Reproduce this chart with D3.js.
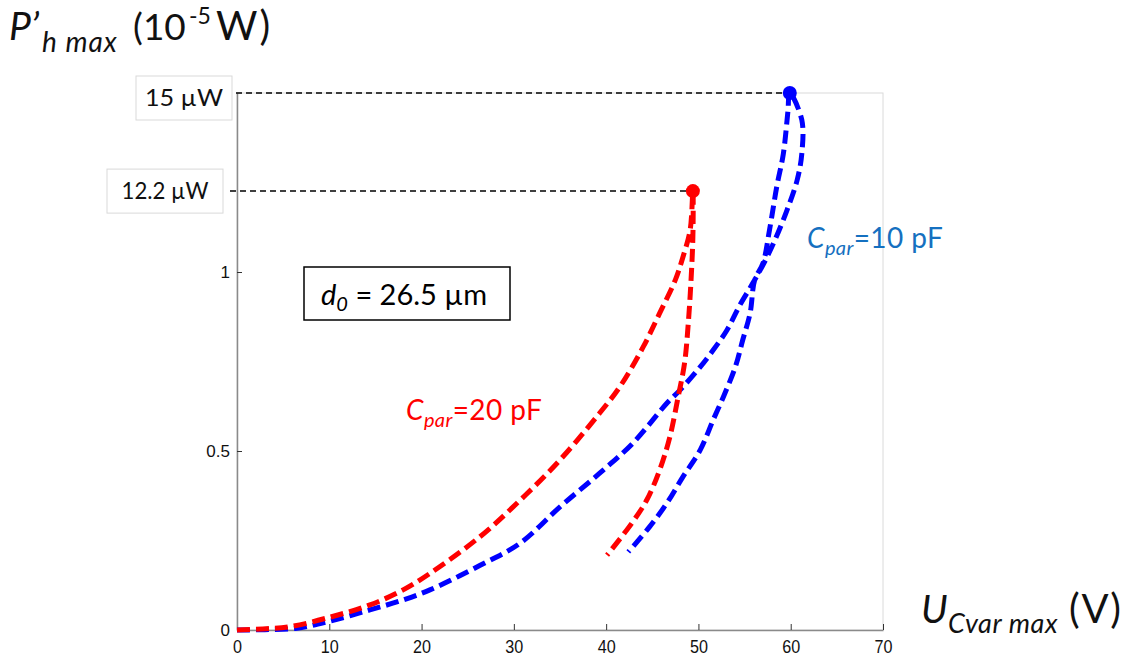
<!DOCTYPE html>
<html><head><meta charset="utf-8">
<script src="https://cdn.jsdelivr.net/npm/d3@7"></script>
<style>body{margin:0;background:#fff}svg{display:block}</style>
</head><body><svg id="c" width="1125" height="658"></svg>
<script>
// ---- data ----
const xTicks = [0, 10, 20, 30, 40, 50, 60, 70];
const yTicks = [0, 0.5, 1];
// Cpar = 20 pF (red): U (V), P (1e-5 W)
const redU = [0, 2.8, 5.7, 10.1, 14.4, 18, 20.9, 26.3, 30.7, 35, 39.3, 41.5, 44, 45.8, 47.5, 48.3, 49.1, 49.4,
              49.4, 49.2, 48.9, 48.5, 47.8, 46.9, 45.8, 44.4, 42.8, 40.1];
const redP = [0, 0.003, 0.009, 0.036, 0.07, 0.112, 0.158, 0.26, 0.363, 0.475, 0.606, 0.68, 0.79, 0.885, 0.978, 1.04, 1.117, 1.226,
              1.1, 0.978, 0.857, 0.746, 0.651, 0.539, 0.447, 0.363, 0.299, 0.209];
// Cpar = 10 pF (blue)
const blueU = [0, 3, 6.5, 10.1, 14.4, 18, 20.9, 26.3, 30.7, 35, 39.3, 42.9, 46.6, 48.0, 50.2, 51.6, 53.1, 54.5, 55.9, 57.2, 58.3, 59.6, 60.7, 61.2, 61.2, 59.9,
               59.7, 59.2, 58.5, 57.7, 57, 56.1, 55.6, 54.8, 54, 52.7, 51.6, 50.2, 48.3, 46.6, 44.7, 42.4];
const blueP = [0, 0.001, 0.005, 0.025, 0.056, 0.084, 0.112, 0.18, 0.243, 0.344, 0.438, 0.522, 0.634, 0.67, 0.735, 0.782, 0.838, 0.908, 0.969, 1.03, 1.09, 1.173, 1.257, 1.33, 1.425, 1.5,
               1.45, 1.33, 1.24, 1.117, 1.025, 0.978, 0.885, 0.81, 0.735, 0.651, 0.587, 0.503, 0.427, 0.355, 0.288, 0.218];
const peakU = [59.9, 49.4];
const peakP = [1.5, 1.226];
const peakColors = ["#0000ff", "#ff0000"];
const peakLabels = ["15 µW", "12.2 µW"];

// ---- layout ----
const svg = d3.select("#c");
const x = d3.scaleLinear().domain([0, 70]).range([237, 883]);
const y = d3.scaleLinear().domain([0, 1.5]).range([630, 93]);
const LATO = "Lato, 'Open Sans', sans-serif";

// frame
svg.append("rect").attr("x", x(0)).attr("y", y(1.5))
  .attr("width", x(70) - x(0)).attr("height", y(0) - y(1.5))
  .attr("fill", "none").attr("stroke", "#dadada").attr("stroke-width", 1);

// axes
const xAxis = svg.append("g").attr("transform", `translate(0,${y(0)})`)
  .call(d3.axisBottom(x).tickValues(xTicks).tickFormat(d3.format("d")).tickSizeInner(-6).tickSizeOuter(0).tickPadding(10));
const yAxis = svg.append("g").attr("transform", `translate(${x(0)},0)`)
  .call(d3.axisLeft(y).tickValues(yTicks).tickFormat(d => d === 0.5 ? "0.5" : d3.format("d")(d)).tickSizeInner(-5).tickSizeOuter(0).tickPadding(7));
[xAxis, yAxis].forEach(g => {
  g.select(".domain").attr("stroke", "#8a8a8a").attr("stroke-width", 1.5);
  g.selectAll(".tick line").attr("stroke", "#333").attr("stroke-width", 1);
  g.selectAll(".tick text").attr("font-family", "'Liberation Sans', Arial, sans-serif")
    .attr("font-size", 17).attr("fill", "#111");
});
xAxis.selectAll(".tick text").attr("transform", "scale(0.95,1.05)");

// guide lines to peaks
peakU.forEach((u, i) => {
  svg.append("line").attr("x1", x(0) - (i === 0 ? 1 : 7)).attr("x2", x(u))
    .attr("y1", y(peakP[i])).attr("y2", y(peakP[i]))
    .attr("stroke", "#000").attr("stroke-width", 1.5).attr("stroke-dasharray", "6,4");
});

// peak label boxes
const boxes = [{x: 136, w: 96, tl: 78}, {x: 107, w: 116, tl: 87}];
peakLabels.forEach((t, i) => {
  const cy = y(peakP[i]) + (i === 0 ? 5 : 0);
  svg.append("rect").attr("x", boxes[i].x).attr("y", cy - 22).attr("width", boxes[i].w).attr("height", 44)
    .attr("fill", "#fff").attr("stroke", "#d9d9d9").attr("stroke-width", 1);
  svg.append("text").attr("x", boxes[i].x + boxes[i].w / 2).attr("y", cy + 8)
    .attr("text-anchor", "middle").attr("font-family", LATO).attr("font-size", 23).attr("fill", "#111")
    .attr("textLength", boxes[i].tl).attr("lengthAdjust", "spacingAndGlyphs").text(t);
});

// curves
const line = d3.line().x(d => x(d[0])).y(d => y(d[1])).curve(d3.curveCatmullRom.alpha(0.5));
const series = [
  {u: blueU, p: blueP, c: "#0000ff"},
  {u: redU, p: redP, c: "#ff0000"}
];
series.forEach(s => {
  svg.append("path").attr("d", line(s.u.map((u, i) => [u, s.p[i]])))
    .attr("fill", "none").attr("stroke", s.c).attr("stroke-width", 5)
    .attr("stroke-dasharray", "13,6").attr("stroke-linejoin", "round");
});
peakU.forEach((u, i) => {
  svg.append("circle").attr("cx", x(u)).attr("cy", y(peakP[i])).attr("r", 7).attr("fill", peakColors[i]);
});

// d0 box
svg.append("rect").attr("x", 304).attr("y", 267).attr("width", 206).attr("height", 53)
  .attr("fill", "#fff").attr("stroke", "#000").attr("stroke-width", 1.5);
const d0 = svg.append("text").attr("x", 321).attr("y", 305).attr("font-family", LATO).attr("font-size", 29).attr("fill", "#000");
d0.append("tspan").attr("font-style", "italic").text("d");
d0.append("tspan").attr("font-style", "italic").attr("font-size", 20).attr("dy", 6).text("0");
d0.append("tspan").attr("dy", -6).text(" = 26.5 µm");

// Cpar labels
function cpar(xp, yp, val, color) {
  const t = svg.append("text").attr("x", xp).attr("y", yp).attr("font-family", LATO).attr("font-size", 28)
    .attr("letter-spacing", 0.4).attr("fill", color);
  t.append("tspan").attr("font-style", "italic").text("C");
  t.append("tspan").attr("font-style", "italic").attr("font-size", 20).attr("dy", 7).text("par");
  t.append("tspan").attr("dy", -7).text("=" + val + " pF");
}
cpar(406, 420, 20, "#ff0000");
cpar(807, 248, 10, "#1570c0");

// axis titles (pieces placed individually)
function piece(t, xp, yp, size, italic, ls) {
  return svg.append("text").attr("x", xp).attr("y", yp).attr("font-family", LATO).attr("font-size", size)
    .attr("fill", "#111").attr("font-style", italic ? "italic" : "normal")
    .attr("letter-spacing", ls || 0).text(t);
}
piece("P’", 9, 40, 39, true);
piece("h max", 42, 52, 28, true, 1);
piece("(10", 133, 40, 37, false);
piece("-5", 189, 24, 23, false);
piece("W)", 216, 40, 40, false, 2);

piece("U", 921, 623, 39, true);
piece("Cvar max", 948, 633, 27, true, 0.6);
piece("(V)", 1069, 623, 40, false, 1.5);
</script></body></html>
